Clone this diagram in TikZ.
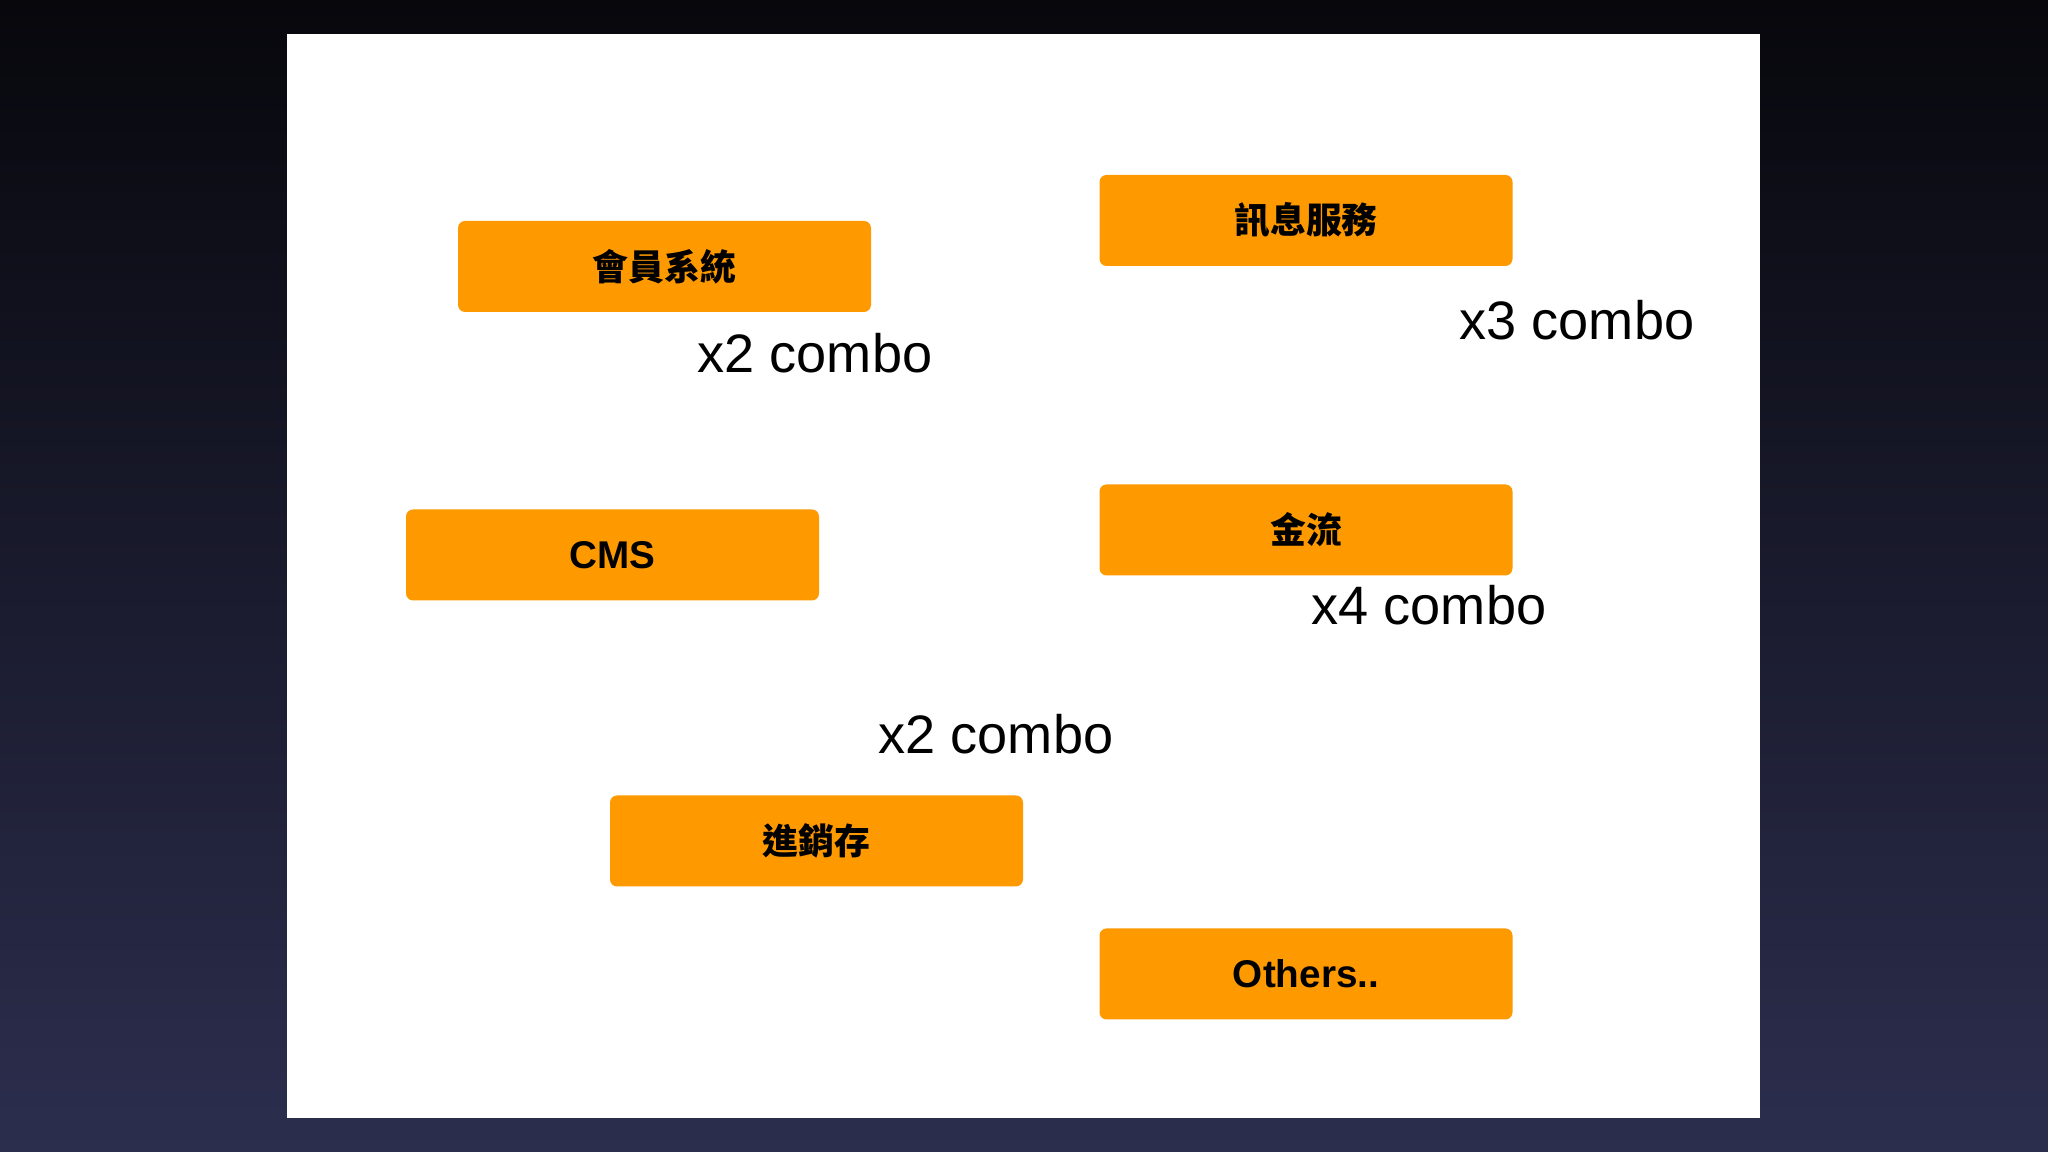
\documentclass[tikz,border=0pt]{standalone}
\usepackage{fontspec}
\setmainfont{Liberation Sans}
\newfontfamily\cjk{Noto Sans CJK TC}
\usepackage{xcolor}
\usetikzlibrary{positioning}
\definecolor{BgTop}{RGB}{7,7,12}
\definecolor{BgBot}{RGB}{44,46,78}
\definecolor{BoxOrange}{RGB}{254,153,0}

\begin{document}
\begin{tikzpicture}[
          sys/.style={rectangle, rounded corners=2pt, fill=BoxOrange,
                      minimum width=4.13cm, minimum height=0.91cm,
                      align=center, font=\fontsize{11}{13}\selectfont\bfseries},
          han/.style={sys, font=\fontsize{10.2}{12}\selectfont\cjk\bfseries},
          combo/.style={font=\fontsize{15.4}{18}\selectfont, inner sep=0pt}
        ]
        \shade[top color=BgTop, bottom color=BgBot] (0,0) rectangle (20.48,11.52);
        \fill[white] (2.87,0.34) rectangle (17.60,11.18);
        \useasboundingbox (0,0) rectangle (20.48,11.52);

        \node[han] (mem) at (6.645, 8.855) {會員系統};
        \node[han] (msg) at (13.06, 9.315) {訊息服務};
        \node[sys] (cms) at (6.125, 5.97)  {CMS};
        \node[han] (pay) at (13.06, 6.22)  {金流};
        \node[han] (inv) at (8.165, 3.11)  {進銷存};
        \node[sys] (oth) at (13.06, 1.78)  {Others..};

        \node[combo] (memx) at (8.15, 7.99)  {x2 combo};
        \node[combo] (msgx) at (15.77, 8.32) {x3 combo};
        \node[combo] (payx) at (14.29, 5.47) {x4 combo};
        \node[combo] (invx) at (9.96, 4.18)  {x2 combo};
      \end{tikzpicture}
\end{document}
